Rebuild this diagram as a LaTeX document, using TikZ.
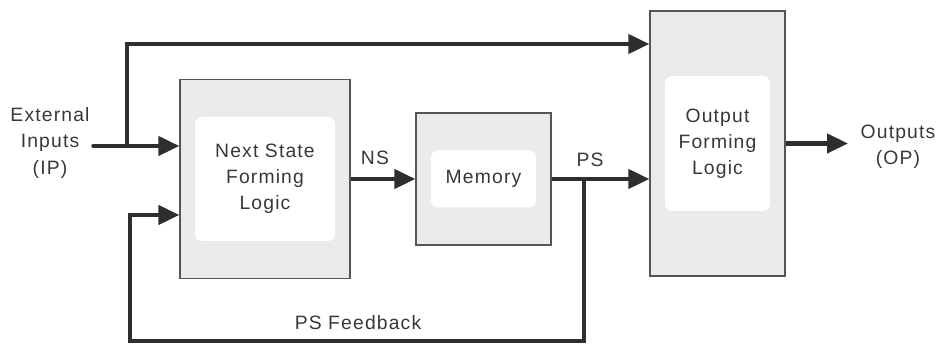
\documentclass[tikz,border=0pt]{standalone}
\usepackage{fontspec}
\setmainfont[LetterSpace=6]{Liberation Sans}
\usepackage{xcolor}
\usepackage{tikz}
\usetikzlibrary{arrows.meta,positioning}
\definecolor{WireGray}{HTML}{2E2E2E}
\definecolor{TextGray}{HTML}{383838}
\definecolor{BoxEdge}{HTML}{555555}
\definecolor{BoxShade}{HTML}{EBEBEB}

\tikzset{
  flow/.style={draw=WireGray, line width=0.085cm, -{Triangle[length=0.42cm,width=0.38cm]}},
  lbl/.style={text=TextGray, align=center, font=\fontsize{11}{14.8}\selectfont, inner sep=2pt},
  logicblock/.style n args={4}{draw=BoxEdge, line width=0.7pt, fill=BoxShade,
    minimum width=#1, minimum height=#2, text=TextGray, align=center,
    font=\fontsize{11}{14.8}\selectfont,
    path picture={\fill[white, rounded corners=4pt]
      ([shift={(#3,-#4)}]path picture bounding box.north west) rectangle
      ([shift={(-#3,#4)}]path picture bounding box.south east);}}
}

\begin{document}
\begin{tikzpicture}
  \useasboundingbox (0,0) rectangle (18.72,6.88);
  \node[logicblock={3.4cm}{3.98cm}{0.3cm}{0.75cm}] (nsfl) at (5.3,3.3) {Next State\\Forming\\Logic};
  \node[logicblock={2.7cm}{2.64cm}{0.3cm}{0.75cm}] (mem) at (9.67,3.3) {Memory};
  \node[logicblock={2.7cm}{5.3cm}{0.3cm}{1.3cm}] (ofl) at (14.35,4.01) {Output\\Forming\\Logic};

  \node[lbl] (iplbl) at (1.0,4.02) {External\\Inputs\\(IP)};
  \node[lbl] (oplbl) at (17.96,3.94) {Outputs\\(OP)};
  \node[lbl] (nslbl) at (7.5,3.72) {NS};
  \node[lbl] (pslbl) at (11.8,3.68) {PS};
  \node[lbl] (fblbl) at (7.16,0.42) {PS Feedback};

  \coordinate (tap) at (2.54,3.96);
  \coordinate (toprow) at (0,6.0);
  \coordinate (branch) at (11.68,3.3);
  \coordinate (fbin) at (2.6,2.58);
  \coordinate (fbrow) at (0,0.06);

  \draw[flow, line cap=round] (iplbl.east |- tap) -- (nsfl.west |- tap);
  \draw[flow] (tap) |- (ofl.west |- toprow);
  \draw[flow] (nsfl.east) -- (mem.west);
  \draw[flow] (mem.east) -- (ofl.west |- mem.east);
  \draw[flow] (branch) |- (fbrow -| fbin) -- (fbin) -- (nsfl.west |- fbin);
  \draw[flow] (ofl.east) -- (ofl.east -| oplbl.west) [shorten >=5pt];
\end{tikzpicture}
\end{document}
